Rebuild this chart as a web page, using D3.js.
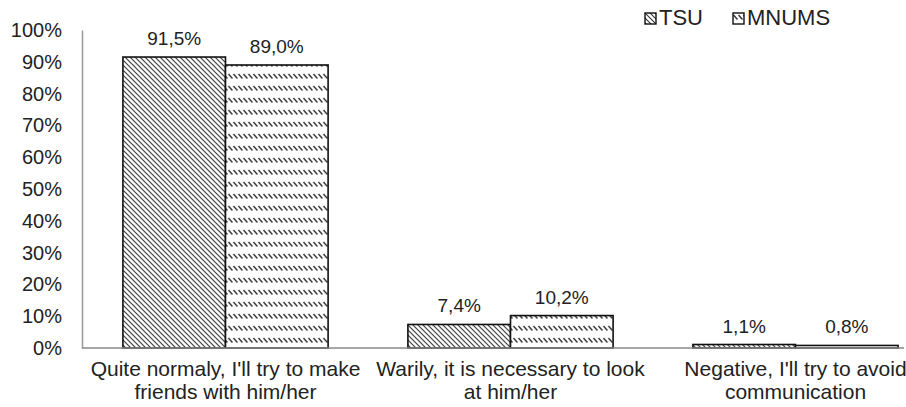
<!DOCTYPE html>
<html>
<head>
<meta charset="utf-8">
<script src="https://cdn.jsdelivr.net/npm/d3@7"></script>
<style>
  body { margin: 0; background: #fff; }
  svg { display: block; }
</style>
</head>
<body>
<div id="chart"></div>
<script>
// data
const categories = [
    ["Quite normaly, I'll try to make", "friends with him/her"],
    ["Warily, it is necessary to look", "at him/her"],
    ["Negative, I'll try to avoid", "communication"]
];
const seriesNames = ["TSU", "MNUMS"];
const tsuValues = [91.5, 7.4, 1.1];
const mnumsValues = [89.0, 10.2, 0.8];
const yTicks = [0, 10, 20, 30, 40, 50, 60, 70, 80, 90, 100];

const width = 906, height = 407;
const font = "Liberation Sans, Arial, sans-serif";
const svg = d3.select("#chart").append("svg")
    .attr("width", width)
    .attr("height", height);

// hatch patterns
const defs = svg.append("defs");
const p1 = defs.append("pattern")
    .attr("id", "hatchTSU")
    .attr("patternUnits", "userSpaceOnUse")
    .attr("width", 5).attr("height", 5);
p1.append("rect").attr("width", 5).attr("height", 5).attr("fill", "#fff");
p1.append("path")
    .attr("d", "M-1,-1 L6,6 M-1,4 L1,6 M4,-1 L6,1")
    .attr("stroke", "#333").attr("stroke-width", 1.1);

const p2 = defs.append("pattern")
    .attr("id", "hatchMNUMS")
    .attr("patternUnits", "userSpaceOnUse")
    .attr("width", 5).attr("height", 12);
p2.append("rect").attr("width", 5).attr("height", 12).attr("fill", "#fff");
p2.append("path")
    .attr("d", "M0.5,2 L4.5,6.5")
    .attr("stroke", "#333").attr("stroke-width", 1.5);

const fills = ["url(#hatchTSU)", "url(#hatchMNUMS)"];

// scales
const x0 = d3.scaleBand()
    .domain(d3.range(categories.length))
    .range([83, 938])
    .paddingInner(0.28)
    .paddingOuter(0.14);
const x1 = d3.scaleBand()
    .domain(d3.range(seriesNames.length))
    .range([0, x0.bandwidth()]);
const y = d3.scaleLinear()
    .domain([0, 100])
    .range([348, 30]);

// y axis
const yAxis = d3.axisLeft(y)
    .tickValues(yTicks)
    .tickSize(0)
    .tickPadding(20)
    .tickFormat(d => d + "%");
const gy = svg.append("g")
    .attr("transform", "translate(82,0)")
    .call(yAxis);
gy.select(".domain").attr("stroke", "#999").attr("stroke-width", 1.5);
gy.selectAll("text")
    .attr("font-family", font)
    .attr("font-size", 20)
    .attr("fill", "#222");

// bars
const rows = categories.map((c, i) => [tsuValues[i], mnumsValues[i]]);
const groups = svg.selectAll(".group")
    .data(rows)
    .enter().append("g")
    .attr("class", "group")
    .attr("transform", (d, i) => `translate(${x0(i)},0)`);

groups.selectAll("rect")
    .data(d => d.map((v, k) => ({v, k})))
    .enter().append("rect")
    .attr("x", d => x1(d.k))
    .attr("y", d => y(d.v))
    .attr("width", x1.bandwidth())
    .attr("height", d => y(0) - y(d.v))
    .attr("fill", d => fills[d.k])
    .attr("stroke", "#111")
    .attr("stroke-width", 1.6);

groups.selectAll(".val")
    .data(d => d.map((v, k) => ({v, k})))
    .enter().append("text")
    .attr("class", "val")
    .attr("x", d => x1(d.k) + x1.bandwidth() / 2)
    .attr("y", d => y(d.v) - 12)
    .attr("text-anchor", "middle")
    .attr("font-family", font)
    .attr("font-size", 19)
    .attr("fill", "#222")
    .text(d => d.v.toFixed(1).replace(".", ",") + "%");

// baseline
svg.append("line")
    .attr("x1", 82).attr("x2", 904)
    .attr("y1", y(0)).attr("y2", y(0))
    .attr("stroke", "#888").attr("stroke-width", 1.5);

// category labels
const cat = svg.selectAll(".cat")
    .data(categories)
    .enter().append("text")
    .attr("class", "cat")
    .attr("text-anchor", "middle")
    .attr("font-family", font)
    .attr("font-size", 21)
    .attr("fill", "#222");
cat.each(function(d, i) {
    const t = d3.select(this);
    d.forEach((line, j) => {
        t.append("tspan")
            .attr("x", x0(i) + x0.bandwidth() / 2)
            .attr("y", 376 + j * 23)
            .text(line);
    });
});

// legend
const legendX = [645, 733];
const legend = svg.selectAll(".legend")
    .data(seriesNames)
    .enter().append("g")
    .attr("class", "legend")
    .attr("transform", (d, i) => `translate(${legendX[i]},13)`);
legend.append("rect")
    .attr("width", 11).attr("height", 11)
    .attr("fill", (d, i) => fills[i])
    .attr("stroke", "#111").attr("stroke-width", 1.4);
legend.append("text")
    .attr("x", 14).attr("y", 12)
    .attr("font-family", font)
    .attr("font-size", 22)
    .attr("fill", "#222")
    .text(d => d);
</script>
</body>
</html>
